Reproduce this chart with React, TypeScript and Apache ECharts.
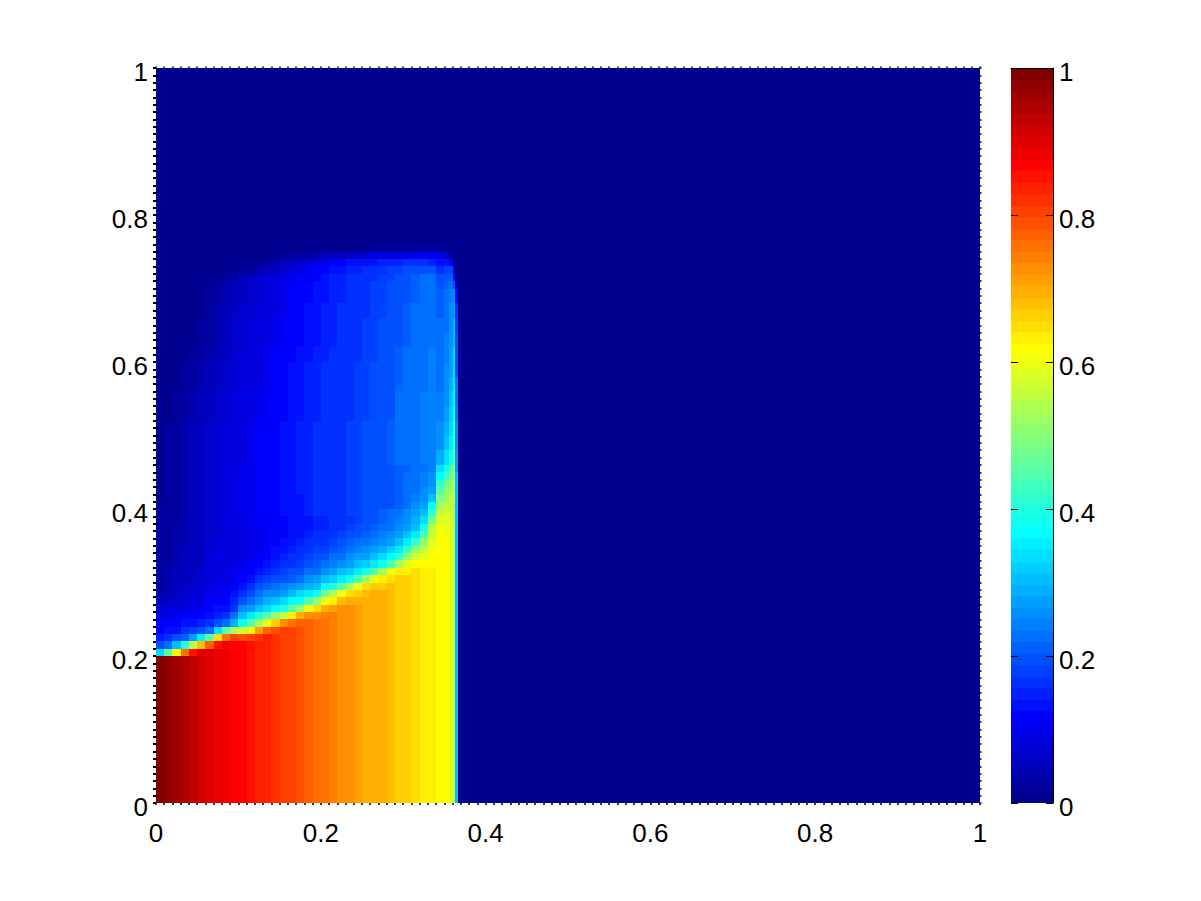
import React, { useEffect, useRef } from "react";
import * as echarts from "echarts";

const colorLevels = 64;

// Cell edges of the field (x to the right, y upwards)
const xEdges = [0,.01,.02,.03,.04,.05,.06,.07,.08,.09,.1,.11,.12,.13,.14,.15,.16,.17,.18,.19,.2,.21,.22,.23,.24,.25,.26,.27,.28,.29,.3,.31,.32,.33,.34,.35,.355,.36,.363,.366];
const yEdges = [0,.2,.21,.22,.23,.24,.25,.26,.27,.28,.29,.3,.31,.32,.33,.34,.35,.36,.37,.38,.39,.4,.41,.42,.43,.44,.45,.46,.48,.5,.52,.54,.56,.58,.6,.62,.64,.66,.68,.7,.71,.72,.73,.74,.75,.76];

// Field values, one list per row of cells
const base = [.99,.98,.96,.95,.93,.92,.90,.89,.88,.87,.86,.85,.84,.83,.82,.81,.80,.79,.77,.76,.75,.74,.73,.72,.71,.70,.70,.69,.68,.67,.66,.65,.64,.63,.62,.61,.59,.55,.30];
const r205 = [.33,.46,.62,.75,.85,.90,...base.slice(6)];
const r215 = [.19,.23,.30,.40,.55,.68,.77,.85,.88,...base.slice(9)];
const r225 = [.15,.16,.19,.21,.27,.35,.46,.65,.76,.80,.79,.81,.82,.83,...base.slice(14)];
const r235 = [.12,.13,.14,.16,.18,.20,.23,.33,.46,.54,.57,.63,.71,.78,.79,.80,...base.slice(16)];
const r245 = [.11,.11,.12,.13,.14,.15,.16,.19,.23,.29,.38,.44,.52,.60,.67,.72,.76,.77,.77,...base.slice(19)];
const r255 = [.08,.09,.10,.11,.12,.12,.13,.15,.17,.22,.30,.35,.40,.45,.50,.56,.63,.69,.72,.73,.74,...base.slice(21)];
const r265 = [.07,.08,.09,.09,.10,.10,.11,.13,.14,.17,.26,.28,.31,.34,.37,.40,.46,.52,.60,.65,.69,.71,.72,.72,...base.slice(24)];
const r275 = [.05,.06,.07,.07,.08,.08,.11,.11,.12,.15,.20,.23,.26,.29,.31,.33,.36,.39,.44,.50,.60,.64,.68,.69,.70,.70,...base.slice(26)];
const r285 = [.04,.05,.06,.07,.07,.08,.10,.10,.11,.13,.16,.19,.22,.25,.26,.28,.30,.33,.35,.38,.48,.54,.60,.65,.67,.68,.69,.69,...base.slice(28)];
const r295 = [.03,.04,.05,.06,.07,.07,.09,.10,.10,.12,.14,.16,.19,.21,.23,.24,.25,.27,.29,.31,.36,.40,.46,.54,.60,.65,.67,.67,.68,...base.slice(29)];
const r305 = [.03,.04,.05,.06,.06,.07,.08,.09,.09,.10,.12,.14,.16,.18,.19,.20,.21,.23,.25,.27,.30,.32,.35,.39,.44,.52,.60,.64,.65,.66,.66,...base.slice(31)];
const r315 = [.03,.04,.05,.05,.06,.07,.08,.09,.09,.10,.11,.12,.14,.15,.17,.18,.19,.20,.22,.23,.25,.27,.30,.32,.35,.38,.44,.52,.60,.63,.64,.65,...base.slice(32)];
const r325 = [.03,.03,.04,.05,.06,.06,.08,.08,.09,.09,.10,.11,.12,.14,.15,.16,.17,.18,.20,.21,.23,.24,.26,.28,.30,.32,.35,.39,.45,.52,.58,.61,.62,.62,...base.slice(34)];
const r335 = [.03,.03,.04,.05,.05,.06,.08,.08,.08,.09,.09,.10,.11,.12,.14,.15,.16,.17,.18,.19,.20,.22,.23,.25,.27,.28,.30,.33,.37,.42,.50,.57,.60,.62,...base.slice(34)];
const r345 = [.02,.03,.04,.05,.05,.06,.07,.08,.08,.09,.09,.10,.10,.11,.13,.14,.15,.16,.17,.18,.18,.20,.21,.23,.24,.25,.27,.29,.32,.35,.42,.50,.56,.60,...base.slice(34)];
const r355 = [.02,.03,.04,.04,.05,.06,.07,.08,.08,.09,.09,.10,.10,.11,.12,.13,.14,.15,.16,.17,.17,.18,.19,.21,.22,.23,.24,.26,.28,.31,.35,.42,.50,.58,...base.slice(34)];
const r365 = [.02,.03,.04,.04,.05,.06,.07,.07,.08,.09,.09,.10,.10,.11,.11,.12,.13,.14,.15,.16,.16,.17,.18,.19,.20,.21,.22,.24,.25,.27,.30,.35,.44,.56,.61,.60,.58,.55,.30];
const r375 = [.02,.03,.04,.04,.05,.06,.07,.07,.08,.09,.09,.10,.10,.11,.11,.12,.13,.13,.14,.15,.15,.16,.17,.18,.19,.20,.21,.22,.23,.25,.27,.31,.38,.55,.60,.60,.58,.55,.30];
const r385 = [.02,.02,.03,.04,.05,.06,.07,.07,.08,.09,.09,.10,.11,.11,.12,.12,.13,.14,.14,.15,.15,.16,.16,.17,.18,.19,.20,.21,.22,.24,.26,.29,.34,.47,.58,.59,.58,.54,.30];
const r395 = [.02,.02,.03,.04,.05,.06,.07,.07,.08,.09,.10,.10,.11,.12,.12,.13,.14,.14,.15,.16,.16,.17,.17,.18,.18,.19,.20,.21,.22,.23,.25,.27,.31,.42,.56,.58,.57,.54,.30];
const r405 = [.02,.02,.03,.04,.05,.06,.07,.07,.08,.09,.10,.10,.11,.12,.12,.13,.14,.14,.15,.16,.16,.17,.17,.18,.18,.19,.19,.20,.20,.21,.23,.25,.28,.36,.53,.56,.56,.54,.30];
const r415 = [.01,.02,.03,.04,.05,.06,.07,.07,.08,.09,.10,.10,.11,.12,.12,.13,.14,.14,.15,.16,.16,.17,.17,.18,.18,.19,.19,.20,.20,.21,.22,.24,.26,.31,.49,.53,.55,.55,.30];
const r425 = [.01,.02,.03,.04,.05,.06,.07,.07,.08,.09,.10,.10,.11,.12,.12,.13,.14,.15,.15,.16,.16,.17,.17,.18,.18,.19,.19,.20,.20,.21,.22,.23,.25,.28,.45,.50,.52,.54,.30];
const r435 = [.01,.02,.03,.04,.05,.06,.07,.07,.08,.09,.10,.10,.11,.12,.12,.13,.14,.15,.15,.16,.16,.17,.17,.18,.18,.19,.19,.20,.20,.21,.22,.23,.24,.26,.41,.47,.50,.54,.30];
const r445 = [.01,.02,.03,.04,.05,.06,.07,.07,.08,.09,.10,.10,.11,.12,.12,.13,.14,.15,.15,.16,.16,.17,.17,.18,.18,.19,.19,.20,.20,.21,.22,.22,.24,.25,.37,.43,.48,.52,.30];
const r455 = [.01,.02,.03,.04,.05,.06,.07,.07,.08,.09,.10,.10,.11,.12,.12,.13,.14,.15,.15,.16,.16,.17,.17,.18,.18,.19,.19,.20,.20,.21,.21,.22,.23,.24,.33,.38,.44,.50,.28];
const r470 = [.01,.02,.03,.04,.05,.06,.07,.07,.08,.09,.09,.10,.11,.12,.12,.13,.14,.15,.15,.16,.16,.17,.17,.18,.18,.19,.20,.20,.21,.22,.22,.23,.24,.24,.29,.33,.39,.48,.28];
const r490 = [.01,.02,.03,.04,.05,.06,.07,.07,.08,.09,.09,.10,.11,.12,.12,.13,.14,.15,.15,.16,.16,.17,.17,.18,.18,.19,.20,.20,.21,.22,.22,.23,.24,.24,.26,.30,.35,.44,.26];
const r510 = [.01,.02,.03,.04,.05,.06,.07,.07,.08,.09,.09,.10,.11,.12,.12,.13,.14,.15,.15,.16,.16,.17,.17,.18,.18,.19,.20,.20,.21,.22,.22,.23,.24,.24,.25,.29,.33,.41,.25];
const r530 = [0,.01,.02,.03,.04,.05,.06,.07,.07,.08,.09,.09,.10,.11,.12,.12,.13,.14,.15,.15,.16,.16,.17,.17,.18,.18,.19,.20,.20,.22,.22,.23,.24,.24,.24,.27,.32,.39,.24];
const r550 = [0,.01,.02,.03,.04,.05,.06,.07,.07,.08,.09,.09,.10,.11,.12,.12,.13,.14,.15,.15,.16,.16,.17,.17,.18,.18,.19,.20,.20,.22,.22,.23,.24,.24,.24,.26,.30,.37,.22];
const r570 = [0,0,.01,.02,.03,.04,.05,.06,.07,.07,.08,.09,.09,.10,.11,.12,.13,.14,.15,.15,.16,.16,.17,.17,.18,.18,.19,.20,.20,.21,.22,.22,.23,.24,.23,.25,.29,.35,.22];
const r590 = [0,0,.01,.02,.03,.04,.05,.06,.07,.07,.08,.09,.09,.10,.11,.12,.13,.14,.15,.15,.16,.16,.17,.17,.18,.18,.19,.20,.20,.21,.22,.22,.23,.24,.23,.25,.28,.34,.20];
const r610 = [0,0,0,.01,.02,.03,.04,.05,.06,.07,.08,.09,.09,.10,.11,.12,.12,.13,.14,.15,.15,.16,.16,.17,.17,.18,.18,.19,.20,.21,.22,.22,.23,.24,.22,.24,.27,.33,.20];
const r630 = [0,0,0,0,.01,.02,.03,.04,.06,.07,.07,.08,.09,.09,.10,.11,.12,.12,.13,.14,.15,.15,.16,.17,.17,.18,.18,.19,.20,.20,.21,.22,.22,.23,.22,.24,.26,.31,.19];
const r650 = [0,0,0,0,.01,.02,.03,.04,.06,.07,.07,.08,.09,.09,.10,.11,.12,.12,.13,.14,.15,.15,.16,.17,.17,.18,.18,.19,.20,.20,.21,.22,.22,.23,.22,.23,.25,.30,.18];
const r670 = [0,0,0,0,0,.01,.03,.04,.05,.06,.07,.07,.08,.09,.09,.10,.11,.12,.13,.14,.15,.15,.16,.16,.17,.17,.18,.18,.19,.20,.21,.22,.22,.23,.21,.23,.25,.28,.16];
const r690 = [0,0,0,0,0,.01,.02,.03,.04,.05,.06,.07,.07,.08,.09,.10,.11,.12,.12,.13,.14,.15,.15,.16,.17,.17,.18,.18,.19,.20,.20,.21,.22,.22,.21,.22,.24,.26,.12];
const r705 = [0,0,0,0,0,.01,.02,.03,.04,.05,.06,.07,.07,.08,.09,.10,.11,.12,.12,.13,.14,.15,.15,.16,.17,.17,.18,.18,.19,.20,.20,.21,.22,.22,.20,.21,.23,.20,.06];
const r715 = [0,0,0,0,0,0,0,.01,.02,.03,.05,.06,.07,.08,.09,.09,.10,.11,.12,.12,.13,.15,.15,.16,.16,.17,.17,.18,.18,.20,.20,.21,.22,.22,.19,.20,.21,.14,0];
const r725 = [0,0,0,0,0,0,0,0,0,.01,.02,.03,.04,.05,.06,.07,.08,.09,.10,.11,.12,.13,.14,.15,.15,.16,.17,.17,.18,.18,.19,.19,.20,.20,.17,.18,.18,.08,0];
const r735 = [0,0,0,0,0,0,0,0,0,0,0,.01,.02,.03,.04,.05,.06,.07,.08,.09,.10,.11,.12,.13,.13,.14,.14,.15,.15,.15,.16,.16,.16,.15,.14,.14,.12,0,0];
const r745 = [0,0,0,0,0,0,0,0,0,0,0,0,0,.01,.01,.02,.02,.03,.03,.04,.05,.05,.06,.06,.07,.07,.08,.08,.09,.09,.09,.10,.10,.10,.09,.07,.03,0,0];
const r755 = [0,0,0,0,0,0,0,0,0,0,0,0,0,0,0,0,0,0,0,0,.01,.01,.01,.01,.01,.01,.02,.02,.02,.02,.02,.02,.02,.02,.02,.01,0,0,0];
const rows = [base,r205,r215,r225,r235,r245,r255,r265,r275,r285,r295,r305,r315,r325,r335,r345,r355,r365,r375,r385,r395,r405,r415,r425,r435,r445,r455,r470,r490,r510,r530,r550,r570,r590,r610,r630,r650,r670,r690,r705,r715,r725,r735,r745,r755];

// MATLAB's 64-step jet palette
function jetColor(i: number): string {
  const t = (i + 1) / colorLevels;
  const ch = (c: number) => Math.round(255 * Math.max(0, Math.min(1, 4 * t - c + 0.5, -4 * t + c + 2.5)));
  return `rgb(${ch(2)},${ch(1)},${ch(0)})`;
}
const jet = Array.from({ length: colorLevels }, (_, i) => jetColor(i));
const colorOf = (v: number) => jet[Math.min(colorLevels - 1, Math.floor(v * colorLevels))];

function cells() {
  const out: number[][] = [[0, 1, 0, 1, 0]];
  rows.forEach((row, r) => {
    row.forEach((v, c) => {
      if (v > 0) out.push([xEdges[c], xEdges[c + 1], yEdges[r], yEdges[r + 1], v]);
    });
  });
  return out;
}
const barCells = jet.map((_, i) => [0, 1, i / colorLevels, (i + 1) / colorLevels, (i + 0.5) / colorLevels]);

const renderCell = (_: any, api: any) => {
  const a = api.coord([api.value(0), api.value(3)]);
  const b = api.coord([api.value(1), api.value(2)]);
  const x = Math.round(a[0]);
  const y = Math.round(a[1]);
  return {
    type: "rect",
    shape: { x, y, width: Math.round(b[0]) - x, height: Math.round(b[1]) - y },
    style: { fill: colorOf(api.value(4)) },
  };
};

const font = { color: "#000", fontFamily: "Liberation Sans", fontSize: 26 };
const tickAxis = (extra: any, length: number, width: number, label: any) => ({
  type: "value",
  min: 0,
  max: 1,
  interval: 0.2,
  z: 5,
  splitLine: { show: false },
  axisLine: { show: false, onZero: false },
  axisTick: { show: true, length, lineStyle: { color: "#000", width } },
  minorTick: { show: true, splitNumber: 20, length, lineStyle: { color: "#000", width } },
  axisLabel: label ? { ...font, show: true, ...label } : { show: false },
  ...extra,
});

export default function App() {
  const ref = useRef<HTMLDivElement>(null);
  useEffect(() => {
    const chart = echarts.init(ref.current!, undefined, { renderer: "svg" });
    const bar = {
      type: "value", min: 0, max: 1, interval: 0.2, z: 5,
      splitLine: { show: false }, minorTick: { show: false },
      axisTick: { show: true, inside: true, length: 7, lineStyle: { color: "#000", width: 1 } },
    };
    chart.setOption({
      animation: false,
      backgroundColor: "#fff",
      grid: [
        { left: 156, top: 68, width: 824, height: 735 },
        { left: 1011, top: 68, width: 42, height: 735 },
      ],
      xAxis: [
        tickAxis({ gridIndex: 0, position: "bottom" }, 2, 1.5, { margin: 17 }),
        tickAxis({ gridIndex: 0, position: "top" }, 1.5, 1.5, null),
        { type: "value", gridIndex: 1, min: 0, max: 1, position: "top", z: 5, splitLine: { show: false },
          axisTick: { show: false }, axisLabel: { show: false }, axisLine: { show: true, onZero: false, lineStyle: { color: "#000", width: 1 } } },
      ],
      yAxis: [
        tickAxis({ gridIndex: 0, position: "left" }, 3, 2, { margin: 8, verticalAlign: "top", lineHeight: 7 }),
        tickAxis({ gridIndex: 0, position: "right" }, 1.5, 1.5, null),
        { ...bar, gridIndex: 1, position: "right", axisLine: { show: true, onZero: false, lineStyle: { color: "#000", width: 1 } },
          axisLabel: { ...font, show: true, margin: 6, verticalAlign: "top", lineHeight: 7 } },
        { ...bar, gridIndex: 1, position: "left", axisLine: { show: false, onZero: false }, axisLabel: { show: false } },
      ],
      series: [
        { type: "custom", xAxisIndex: 0, yAxisIndex: 0, data: cells(), encode: { x: [0, 1], y: [2, 3] }, renderItem: renderCell, silent: true, clip: true },
        { type: "custom", xAxisIndex: 2, yAxisIndex: 2, data: barCells, encode: { x: [0, 1], y: [2, 3] }, renderItem: renderCell, silent: true, clip: true },
      ],
    });
    return () => chart.dispose();
  }, []);
  return <div ref={ref} style={{ position: "absolute", left: 0, top: 0, width: 1201, height: 901 }} />;
}
